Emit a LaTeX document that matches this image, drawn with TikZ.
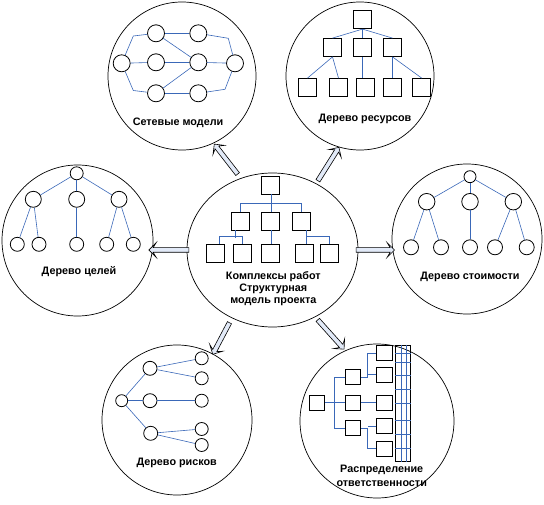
\documentclass[tikz,border=0pt]{standalone}
\usepackage{fontspec}
\setmainfont{Liberation Sans}
\usetikzlibrary{shapes.geometric,shapes.arrows,calc}
\definecolor{eb}{RGB}{58,104,184}
\definecolor{af}{RGB}{226,234,248}
\newcommand{\blockarrow}[2]{%
  \path let \p1=($(#2)-(#1)$), \n1={atan2(\y1,\x1)}, \n2={veclen(\x1,\y1)} in
    node[barrow, minimum height=\n2, rotate=\n1] at ($(#1)!0.5!(#2)$) {};}
\begin{document}
\begin{tikzpicture}[x=1pt,y=-1pt,
  big/.style={draw,circle,line width=0.7pt,inner sep=0,minimum size=#1},
  sq/.style={draw,rectangle,line width=0.8pt,minimum size=18pt,inner sep=0},
  ssq/.style={draw,rectangle,line width=0.8pt,minimum width=#1,minimum height=15pt,inner sep=0},
  nd/.style={draw,circle,line width=0.8pt,inner sep=0,minimum size=#1},
  ln/.style={eb,line width=0.6pt},
  lbl/.style={font=\bfseries\fontsize{10.8}{12}\selectfont,align=center,inner sep=0},
  barrow/.style={draw,fill=af,single arrow,single arrow head extend=5pt,
    single arrow head indent=3pt,inner xsep=0,inner ysep=2pt,line width=0.6pt}]
\useasboundingbox (0,0) rectangle (544,505);

% ---------- big circles ----------
\node[draw,ellipse,line width=0.7pt,minimum width=171pt,minimum height=154pt,inner sep=0] (cen) at (272.5,250) {};
\node[big=148pt] (net)   at (182,76)  {};
\node[big=148pt] (res)   at (360,76)  {};
\node[big=151pt] (goal)  at (77.5,240.5) {};
\node[big=150pt] (cost)  at (467,239) {};
\node[big=150pt] (risk)  at (177,420) {};
\node[big=154pt] (resp)  at (377,421) {};

% ---------- block arrows ----------
\coordinate (a1t) at (238.3,175);   \coordinate (a1h) at (215,145);
\coordinate (a2t) at (317.3,181.7); \coordinate (a2h) at (338.3,148.3);
\coordinate (a3t) at (190,250);     \coordinate (a3h) at (150,250);
\coordinate (a4t) at (355,250);     \coordinate (a4h) at (393.3,250);
\coordinate (a5t) at (230,321.7);   \coordinate (a5h) at (213.3,353.3);
\coordinate (a6t) at (317,319);     \coordinate (a6h) at (343.3,348.3);
\blockarrow{a1t}{a1h}
\blockarrow{a2t}{a2h}
\blockarrow{a3t}{a3h}
\blockarrow{a4t}{a4h}
\blockarrow{a5t}{a5h}
\blockarrow{a6t}{a6h}

% ---------- network models ----------
\node[nd=17pt] (na)  at (121.7,63.3) {};
\node[nd=17pt] (nb1) at (156,33.3) {};
\node[nd=17pt] (nb2) at (156,62.3) {};
\node[nd=17pt] (nb3) at (156,93.3) {};
\node[nd=17pt] (nc1) at (198.3,33.3) {};
\node[nd=17pt] (nc2) at (198.3,62.3) {};
\node[nd=17pt] (nc3) at (198.3,93.3) {};
\node[nd=17pt] (nd)  at (235,63.3) {};
\draw[ln] (na) -- (133.3,36) -- (nb1);
\draw[ln] (na) -- (nb2);
\draw[ln] (na) -- (133.3,90.5) -- (nb3);
\draw[ln] (nb1) -- (nc1);
\draw[ln] (nb1) -- (nc2);
\draw[ln] (nb2) -- (nc2);
\draw[ln] (nb3) -- (nc2);
\draw[ln] (nb3) -- (nc3);
\draw[ln] (nc1) -- (228.3,38.3) -- (nd);
\draw[ln] (nc2) -- (nd);
\draw[ln] (nc3) -- (225,89.3) -- (nd);
\node[lbl] (netl) at (178,122.7) {Сетевые модели};

% ---------- resource tree ----------
\node[sq] (r0) at (362.5,19.7) {};
\node[sq] (r1) at (332.5,47.5) {};
\node[sq] (r2) at (362.5,47.5) {};
\node[sq] (r3) at (392.5,47.5) {};
\node[sq] (rl1) at (307.5,87.5) {};
\node[sq] (rl2) at (338.5,87.5) {};
\node[sq] (rl3) at (365.8,87.5) {};
\node[sq] (rl4) at (392.5,87.5) {};
\node[sq] (rl5) at (421.7,87.5) {};
\draw[ln] (r0.south) -- (r1.north);
\draw[ln] (r0.south) -- (r2.north);
\draw[ln] (r0.south) -- (r3.north);
\draw[ln] (r1.south) -- (rl1.north);
\draw[ln] (r1.south) -- (rl2.north);
\draw[ln] (r2.south) -- (r2.south |- rl3.north);
\draw[ln] (r3.south) -- (rl4.north);
\draw[ln] (r3.south) -- (rl5.north);
\node[lbl] (resl) at (365,119.3) {Дерево ресурсов};

% ---------- goals tree ----------
\node[nd=13pt] (g0) at (76.7,173.3) {};
\node[nd=16pt] (g1) at (33.3,199.3) {};
\node[nd=16pt] (g2) at (76.7,199.3) {};
\node[nd=16pt] (g3) at (119,199.3) {};
\node[nd=14pt] (h1) at (17.3,244.3) {};
\node[nd=14pt] (h2) at (39,244.3) {};
\node[nd=14pt] (h3) at (76.7,244.3) {};
\node[nd=14pt] (h4) at (106.7,244.3) {};
\node[nd=14pt] (h5) at (133.3,244.3) {};
\draw[ln] (g0) -- (g1);
\draw[ln] (g0) -- (g2);
\draw[ln] (g0) -- (g3);
\draw[ln] (g1) -- (h1);
\draw[ln] (g1) -- (h2);
\draw[ln] (g2) -- (h3);
\draw[ln] (g3) -- (h4);
\draw[ln] (g3) -- (h5);
\node[lbl] (goall) at (79,271.7) {Дерево целей};

% ---------- cost tree ----------
\node[nd=12pt] (k0) at (470,176.7) {};
\node[nd=16.5pt] (k1) at (426.7,201.7) {};
\node[nd=16.5pt] (k2) at (470,201.7) {};
\node[nd=16.5pt] (k3) at (513.3,201.7) {};
\node[nd=15pt] (m1) at (411,247.3) {};
\node[nd=15pt] (m2) at (441,247.3) {};
\node[nd=15pt] (m3) at (470,247.3) {};
\node[nd=15pt] (m4) at (495,247.3) {};
\node[nd=15pt] (m5) at (526.7,247.3) {};
\draw[ln] (k0) -- (k1);
\draw[ln] (k0) -- (k2);
\draw[ln] (k0) -- (k3);
\draw[ln] (k1) -- (m1);
\draw[ln] (k1) -- (m2);
\draw[ln] (k2) -- (m3);
\draw[ln] (k3) -- (m4);
\draw[ln] (k3) -- (m5);
\node[lbl] (costl) at (470,276.7) {Дерево стоимости};

% ---------- central structure ----------
\node[sq] (c0) at (270.8,185) {};
\node[sq] (c1) at (240.5,221) {};
\node[sq] (c2) at (270.8,221) {};
\node[sq] (c3) at (301.2,221) {};
\node[sq] (e1) at (215.5,253) {};
\node[sq] (e2) at (242.2,253) {};
\node[sq] (e3) at (270.8,253) {};
\node[sq] (e4) at (304.2,253) {};
\node[sq] (e5) at (329.5,253) {};
\coordinate (xa) at (235,0);
\coordinate (xb) at (219.3,0);
\coordinate (xd) at (306.7,0);
\draw[ln] (c0.south) -- (c2.north);
\draw[ln] (c1.north) -- ++(0,-8.7) -| (c3.north);
\draw[ln] (c2.south) -- (e3.north);
\draw[ln] (c1.south -| xa) -- ++(0,7.3);
\draw[ln] (e1.north -| xb) -- ++(0,-7) -| (e2.north);
\draw[ln] (c3.south -| xd) -- ++(0,7.3);
\draw[ln] (e4.north -| xd) -- ++(0,-7) -| (e5.north);
\node[lbl,font=\bfseries\fontsize{10.8}{12.2}\selectfont] (cenl) at (273.3,288.6) {Комплексы работ\\Структурная\\модель проекта};

% ---------- risk tree ----------
\node[nd=12pt] (q0) at (121.7,400.7) {};
\node[nd=14pt] (q1) at (150,368.3) {};
\node[nd=14pt] (q2) at (150,400.7) {};
\node[nd=14pt] (q3) at (150.7,433.3) {};
\node[nd=13pt] (p1) at (201.7,358.3) {};
\node[nd=13pt] (p2) at (201.7,378.3) {};
\node[nd=13pt] (p3) at (201.7,400.7) {};
\node[nd=13pt] (p4) at (201.7,429) {};
\node[nd=13pt] (p5) at (201.7,445) {};
\draw[ln] (q0) -- (q1);
\draw[ln] (q0) -- (q2);
\draw[ln] (q0) -- (q3);
\draw[ln] (q1) -- (p1);
\draw[ln] (q1) -- (p2);
\draw[ln] (q2) -- (p3);
\draw[ln] (q3) -- (p4);
\draw[ln] (q3) -- (p5);
\node[lbl] (riskl) at (176.7,462.7) {Дерево рисков};

% ---------- responsibility ----------
\node[ssq=15pt] (s0) at (316.8,402.5) {};
\node[ssq=15pt] (s1) at (353.2,376.8) {};
\node[ssq=15pt] (s2) at (353.2,402.5) {};
\node[ssq=15pt] (s3) at (353.2,427.8) {};
\node[ssq=16pt] (t1) at (384.7,353.2) {};
\node[ssq=16pt] (t2) at (384.7,374.5) {};
\node[ssq=16pt] (t3) at (384.7,402.5) {};
\node[ssq=16pt] (t4) at (384.7,426.2) {};
\node[ssq=16pt] (t5) at (384.7,448.7) {};
\coordinate (bb) at (334.3,402.5);
\coordinate (ba) at (367.7,400);
\draw[ln] (s0) -- (s2);
\draw[ln] (s1.west) -| (bb) |- (s3.west);
\draw[ln] (s2) -- (t3);
\draw[ln] (t1.west) -| (ba |- s1.east) -- (s1.east);
\draw[ln] (t2.west) -- (ba |- t2.west);
\draw[ln] (s3.east) -| (ba |- t5.west) -- (t5.west);
\draw[ln] (t4.west) -- (ba |- t4.west);
\node[draw,line width=0.8pt,minimum width=15pt,minimum height=116.7pt,inner sep=0] (grid) at (403.2,403.3) {};
\foreach \yy in {353.3,362.3,375.7,389,403.3,420,434,448.3}
  \draw[ln] (grid.west |- 0,\yy) -- (grid.east |- 0,\yy);
\draw[ln] (grid.north -| 401,0) -- (grid.south -| 401,0);
\draw[ln] (grid.north -| 406,0) -- (grid.south -| 406,0);
\node[lbl,font=\bfseries\fontsize{10.8}{14}\selectfont] (respl) at (381.7,476.3) {Распределение\\ответственности};
\end{tikzpicture}
\end{document}
